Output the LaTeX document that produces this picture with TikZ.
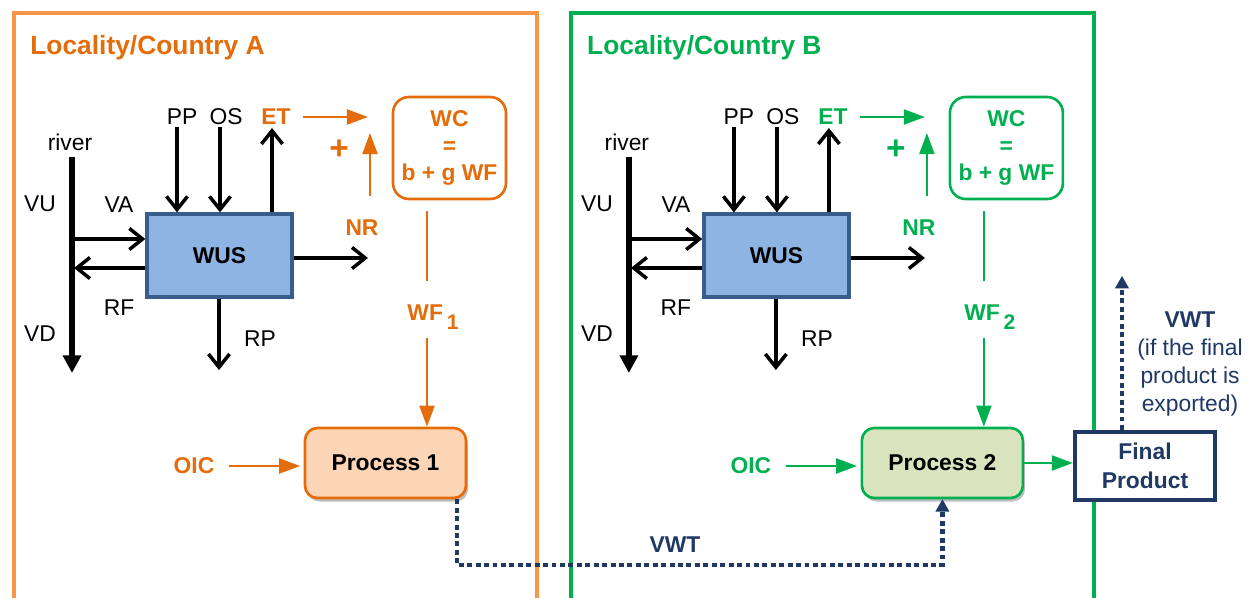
\documentclass[tikz,border=0pt]{standalone}
\usepackage{fontspec}
\setmainfont{Liberation Sans}
\usetikzlibrary{arrows.meta,shadows,calc}
\definecolor{orA}{HTML}{E46C0A}
\definecolor{orFrame}{HTML}{F79646}
\definecolor{orFill}{HTML}{FBD5B5}
\definecolor{grB}{HTML}{00B050}
\definecolor{grFill}{HTML}{D7E4BD}
\definecolor{wusFill}{HTML}{8EB4E3}
\definecolor{wusLine}{HTML}{385D8A}
\definecolor{navy}{HTML}{1F3864}
\tikzset{
  lbl/.style={font=\fontsize{13}{15.5}\selectfont, inner sep=0pt},
  blbl/.style={font=\fontsize{13}{15.5}\selectfont\bfseries, inner sep=0pt},
  titletext/.style={font=\fontsize{15}{18}\selectfont\bfseries, inner sep=0pt},
  locframe/.style={line width=2.3pt},
  blkarrow/.style={line width=2pt, -{Straight Barb[length=7.5pt,width=12pt]}},
  riverline/.style={line width=3.6pt, -{Triangle[length=10pt,width=10pt]}},
  accarrow/.style={line width=1.4pt, -{Triangle[length=12pt,width=8.5pt]}},
  accline/.style={line width=1.4pt},
  wusbox/.style={draw=wusLine, fill=wusFill, line width=1.9pt, minimum width=2.9cm, minimum height=1.66cm, font=\fontsize{13}{15.5}\selectfont\bfseries},
  wcbox/.style={line width=1.5pt, rounded corners=9pt, minimum width=2.26cm, minimum height=2.04cm, align=center, fill=white, font=\fontsize{13}{15.5}\selectfont\bfseries, inner sep=1pt},
  procbox/.style={line width=1.5pt, rounded corners=7pt, minimum width=3.22cm, minimum height=1.4cm, font=\fontsize{13}{15.5}\selectfont\bfseries,
    drop shadow={shadow xshift=1.2pt, shadow yshift=-2pt, opacity=0.25, fill=black}},
  fpbox/.style={draw=navy, fill=white, line width=2.4pt, minimum width=2.8cm, minimum height=1.36cm, align=center, text=navy, font=\fontsize{13}{16.5}\selectfont\bfseries},
  vwtline/.style={draw=navy, line width=2.8pt, dash pattern=on 2.8pt off 2pt, -{Triangle[length=7pt,width=8pt,line width=0pt]}},
}
% #1 prefix, #2 xshift, #3 accent colour, #4 frame colour, #5 title letter, #6 process fill, #7 number
\newcommand\countrypart[7]{%
\begin{scope}[xshift=#2]
  \draw[locframe, draw=#4] (14,13) rectangle (537,640);
  \node[titletext, text=#3, anchor=west] (#1title) at (30,48) {Locality/Country #5};
  \node[wusbox] (#1wus) at (219.5,255.5) {WUS};
  \node[lbl] (#1river) at (70,142) {river};
  \coordinate (#1rtop) at (72,157);
  \coordinate (#1rbot) at (72,373);
  \draw[riverline] (#1rtop) -- (#1rbot);
  \node[lbl] (#1vu) at (40,204) {VU};
  \node[lbl] (#1vd) at (40,334) {VD};
  \node[lbl] (#1va) at (119,205) {VA};
  \node[lbl] (#1rf) at (119,308) {RF};
  \coordinate (#1vain) at (72,239);
  \draw[blkarrow] (#1vain) -- (#1vain -| #1wus.west);
  \coordinate (#1rfout) at (74,268);
  \draw[blkarrow] (#1rfout -| #1wus.west) -- (#1rfout);
  \node[lbl] (#1pp) at (182,117) {PP};
  \node[lbl] (#1os) at (226,117) {OS};
  \node[blbl, text=#3] (#1et) at (276,117) {ET};
  \coordinate (#1ppa) at (177,127);
  \draw[blkarrow] (#1ppa) -- (#1ppa |- #1wus.north);
  \coordinate (#1osa) at (220,127);
  \draw[blkarrow] (#1osa) -- (#1osa |- #1wus.north);
  \coordinate (#1eta) at (272,128);
  \draw[blkarrow] (#1eta |- #1wus.north) -- (#1eta);
  \coordinate (#1rpa) at (219,370);
  \draw[blkarrow] (#1rpa |- #1wus.south) -- (#1rpa);
  \node[lbl] (#1rp) at (260,339) {RP};
  \coordinate (#1nra) at (368,258);
  \draw[blkarrow] (#1nra -| #1wus.east) -- (#1nra);
  \node[blbl, text=#3] (#1nr) at (362,228) {NR};
  \coordinate (#1nrbase) at (370,196);
  \coordinate (#1nrup) at (370,133);
  \draw[accarrow, color=#3] (#1nrbase) -- (#1nrup);
  \node[font=\fontsize{19}{20}\selectfont\bfseries, text=#3, inner sep=0pt] (#1plus) at (339,150) {+};
  \coordinate (#1etend) at (368,117);
  \draw[accarrow, color=#3, shorten <=7pt] (#1et.east) -- (#1etend);
  \node[wcbox, draw=#3, text=#3] (#1wc) at (449.5,148) {WC\\=\\b + g WF};
  \coordinate (#1wft) at (427,211);
  \coordinate (#1wfm) at (427,281);
  \draw[accline, color=#3] (#1wft) -- (#1wfm);
  \node[blbl, text=#3] (#1wf) at (433,317) {WF\,\raisebox{-5pt}{\fontsize{12}{12}\selectfont\bfseries #7}};
  \node[procbox, fill=#6, draw=#3] (#1proc) at (385.5,463) {Process #7};
  \coordinate (#1wfb) at (427,338);
  \draw[accarrow, color=#3] (#1wfb) -- (#1wfb |- #1proc.north);
  \node[blbl, text=#3] (#1oic) at (194,466) {OIC};
  \draw[accarrow, color=#3, shorten <=8pt, shorten >=2pt] (#1oic.east) -- (#1oic.east -| #1proc.west);
\end{scope}}
\begin{document}
\begin{tikzpicture}[x=0.02cm, y=-0.02cm]
  \useasboundingbox (0,0) rectangle (1254,598);
  \clip (0,0) rectangle (1254,598);
  \fill[white] (0,0) rectangle (1254,598);
  \countrypart{A}{0cm}{orA}{orFrame}{A}{orFill}{1}
  \countrypart{B}{11.14cm}{grB}{grB}{B}{grFill}{2}
  % final product
  \node[fpbox] (fp) at (1145,466) {Final\\Product};
  \draw[accarrow, color=grB] (Bproc.east) -- (Bproc.east -| fp.west);
  \coordinate (vwtup) at (1122,276);
  \draw[vwtline] (vwtup |- fp.north) -- (vwtup);
  \node[lbl, align=center, text=navy, font=\fontsize{13}{16}\selectfont] (vwtlab) at (1190,364) {\textbf{VWT}\\(if the final\\product is\\exported)};
  % virtual water trade between processes
  \coordinate (vwtc1) at (457,565);
  \draw[vwtline] (vwtc1 |- Aproc.south) -- (vwtc1) -- (vwtc1 -| Bproc.south) -- (Bproc.south);
  \node[blbl, text=navy] (vwt) at (675,545) {VWT};
\end{tikzpicture}
\end{document}
